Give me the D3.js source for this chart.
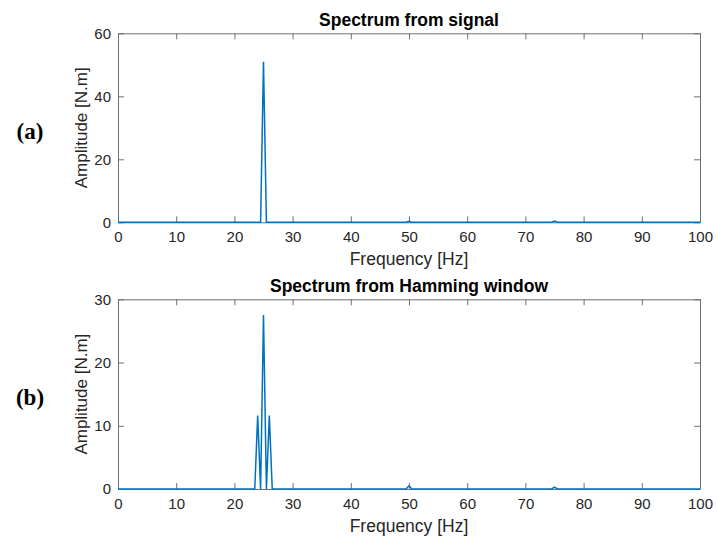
<!DOCTYPE html>
<html>
<head>
<meta charset="utf-8">
<script src="https://cdn.jsdelivr.net/npm/d3@7"></script>
<style>
  html, body { margin: 0; padding: 0; background: #fff; }
  svg { display: block; }
</style>
</head>
<body>
<svg id="chart" width="718" height="540"></svg>
<script>
// Spectrum of the raw signal: breakpoints of the amplitude trace (Hz, N.m)
const signalFreq = [0, 24.5, 25, 25.5, 49.5, 50, 50.5, 74.5, 75, 75.5, 100];
const signalAmp  = [0, 0, 51, 0, 0, 0.3, 0, 0, 0.4, 0, 0];

// Spectrum after applying a Hamming window
const hammingFreq = [0, 23.5, 24, 24.5, 25, 25.5, 26, 26.5, 49.5, 50, 50.5, 74.5, 75, 75.5, 100];
const hammingAmp  = [0, 0, 11.6, 0, 27.5, 0, 11.6, 0, 0, 0.5, 0, 0, 0.3, 0, 0];

const xTicks = [0, 10, 20, 30, 40, 50, 60, 70, 80, 90, 100];
const yTicksSignal = [0, 20, 40, 60];
const yTicksHamming = [0, 10, 20, 30];

const panels = [
  { tag: "a", title: "Spectrum from signal", freq: signalFreq, amp: signalAmp,
    yMax: 60, yTicks: yTicksSignal, top: 33.3, bottom: 222.3 },
  { tag: "b", title: "Spectrum from Hamming window", freq: hammingFreq, amp: hammingAmp,
    yMax: 30, yTicks: yTicksHamming, top: 299.3, bottom: 489 }
];

const svg = d3.select("#chart");
const left = 118, right = 700;
const axisColor = "#707070";
const textColor = "#262626";
const lineColor = "#0072BD";
const font = "Liberation Sans, Arial, Helvetica, sans-serif";

panels.forEach(p => {
  const x = d3.scaleLinear().domain([0, 100]).range([left, right]);
  const y = d3.scaleLinear().domain([0, p.yMax]).range([p.bottom, p.top]);
  const g = svg.append("g");

  // Bottom / left axes with inward ticks
  const xAxis = g.append("g").attr("transform", `translate(0,${p.bottom})`)
    .call(d3.axisBottom(x).tickValues(xTicks).tickSizeInner(-6).tickSizeOuter(0).tickPadding(9));
  const yAxis = g.append("g").attr("transform", `translate(${left},0)`)
    .call(d3.axisLeft(y).tickValues(p.yTicks).tickSizeInner(-6).tickSizeOuter(0).tickPadding(7));
  // Mirrored top / right axes (box)
  const xTop = g.append("g").attr("transform", `translate(0,${p.top})`)
    .call(d3.axisTop(x).tickValues(xTicks).tickSizeInner(-6).tickSizeOuter(0).tickFormat(""));
  const yRight = g.append("g").attr("transform", `translate(${right},0)`)
    .call(d3.axisRight(y).tickValues(p.yTicks).tickSizeInner(-6).tickSizeOuter(0).tickFormat(""));

  [xAxis, yAxis, xTop, yRight].forEach(a => {
    a.select(".domain").attr("stroke", axisColor).attr("stroke-width", 1);
    a.selectAll(".tick line").attr("stroke", axisColor).attr("stroke-width", 1);
    a.selectAll(".tick text").attr("fill", textColor)
      .style("font-family", font).style("font-size", "15px");
  });

  // Amplitude trace
  const pts = p.freq.map((f, i) => [f, p.amp[i]]);
  g.append("path")
    .datum(pts)
    .attr("fill", "none")
    .attr("stroke", lineColor)
    .attr("stroke-width", 1.5)
    .attr("stroke-linejoin", "miter")
    .attr("d", d3.line().x(d => x(d[0])).y(d => y(d[1])));

  // Title
  g.append("text")
    .attr("x", (left + right) / 2).attr("y", p.top - 7)
    .attr("text-anchor", "middle")
    .style("font-family", font).style("font-size", "17.5px").style("font-weight", "bold")
    .attr("fill", "#000")
    .text(p.title);

  // Axis labels
  g.append("text")
    .attr("x", (left + right) / 2).attr("y", p.bottom + 43)
    .attr("text-anchor", "middle")
    .style("font-family", font).style("font-size", "17.5px")
    .attr("fill", textColor)
    .text("Frequency [Hz]");

  const cy = (p.top + p.bottom) / 2;
  g.append("text")
    .attr("transform", `translate(87,${cy}) rotate(-90)`)
    .attr("text-anchor", "middle")
    .style("font-family", font).style("font-size", "17px")
    .attr("fill", textColor)
    .text("Amplitude [N.m]");

  // Panel tag
  g.append("text")
    .attr("x", 30).attr("y", cy + 11)
    .attr("text-anchor", "middle")
    .style("font-family", "Liberation Serif, Times New Roman, serif")
    .style("font-size", "23px").style("font-weight", "bold")
    .attr("fill", "#000")
    .text(`(${p.tag})`);
});
</script>
</body>
</html>
